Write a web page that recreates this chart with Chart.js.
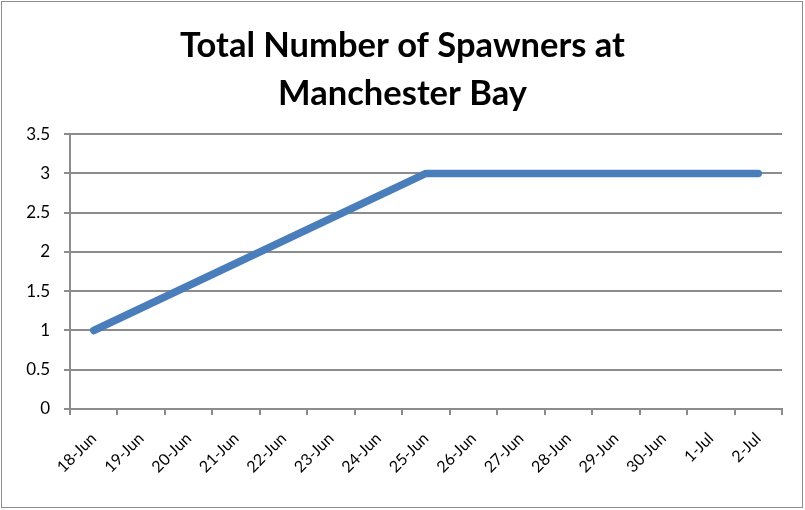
<!DOCTYPE html>
<html>
<head>
<meta charset="utf-8">
<script src="https://cdn.jsdelivr.net/npm/chart.js@4/dist/chart.umd.min.js"></script>
<style>
  html, body { margin: 0; padding: 0; background: #fff; }
  #wrap { width: 805px; height: 510px; }
</style>
</head>
<body>
<div id="wrap"><canvas id="spawnChart" width="805" height="510"></canvas></div>
<script>
// categories (dates) and spawner counts
const dates = ["18-Jun", "19-Jun", "20-Jun", "21-Jun", "22-Jun", "23-Jun", "24-Jun", "25-Jun",
  "26-Jun", "27-Jun", "28-Jun", "29-Jun", "30-Jun", "1-Jul", "2-Jul"];
const spawners = [1, null, null, null, null, null, null, 3, 3, 3, 3, 3, 3, 3, 3];
const yTicks = [0, 0.5, 1, 1.5, 2, 2.5, 3, 3.5];

const gridColor = "#8c8c8c";

// outer grey frame like the excel chart area
const frame = {
  id: "frame",
  beforeDraw(chart) {
    const c = chart.ctx;
    c.save();
    c.fillStyle = "#fff";
    c.fillRect(0, 0, chart.width, chart.height);
    c.strokeStyle = "#8c8c8c";
    c.lineWidth = 1;
    c.strokeRect(1.5, 1.5, chart.width - 4, chart.height - 4);
    c.restore();
  }
};

const ctx = document.getElementById("spawnChart").getContext("2d");
new Chart(ctx, {
  type: "line",
  data: {
    labels: dates,
    datasets: [{
      data: spawners,
      borderColor: "#4a7ebb",
      borderWidth: 7.5,
      borderCapStyle: "round",
      borderJoinStyle: "round",
      pointRadius: 0,
      tension: 0,
      spanGaps: true,
      fill: false
    }]
  },
  options: {
    responsive: false,
    animation: false,
    layout: { padding: { left: 12, right: 12, top: 0, bottom: 0 } },
    plugins: {
      legend: { display: false },
      tooltip: { enabled: false },
      title: {
        display: true,
        text: ["Total Number of Spawners at", "Manchester Bay"],
        color: "#000",
        font: { family: "Lato", size: 34.5, weight: "bold", lineHeight: 1.38 },
        padding: { top: 22, bottom: 17 }
      }
    },
    scales: {
      x: {
        offset: true,
        grid: {
          display: true,
          offset: true,
          drawOnChartArea: false,
          drawTicks: true,
          tickLength: 6,
          lineWidth: 2,
          color: gridColor
        },
        border: { display: true, color: gridColor, width: 2 },
        ticks: {
          autoSkip: false,
          minRotation: 45,
          maxRotation: 45,
          padding: 14,
          color: "#000",
          font: { family: "Lato", size: 16 }
        },
        afterFit(scale) { scale.height = 101; }
      },
      y: {
        min: 0,
        max: 3.5,
        afterBuildTicks(scale) { scale.ticks = yTicks.map(v => ({ value: v })); },
        grid: { color: gridColor, tickLength: 6, lineWidth: 2 },
        border: { display: true, color: gridColor, width: 2 },
        ticks: {
          padding: 14,
          color: "#000",
          font: { family: "Lato", size: 17 },
          callback: v => String(v)
        },
        afterFit(scale) { scale.width = 58; }
      },
      // empty spacer on the right so the plot ends where the reference does
      yPad: {
        position: "right",
        display: true,
        grid: { display: false },
        border: { display: false },
        ticks: { display: false },
        afterFit(scale) { scale.width = 11; }
      }
    }
  },
  plugins: [frame]
});
</script>
</body>
</html>
